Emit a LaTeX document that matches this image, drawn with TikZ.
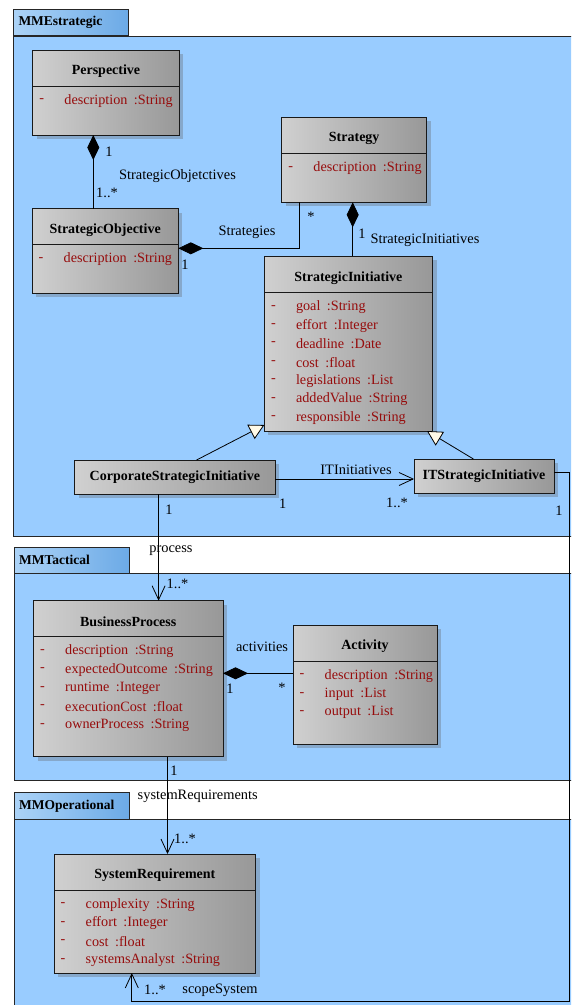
\documentclass[tikz,border=0pt]{standalone}
\usepackage{fontspec}
\setmainfont{Liberation Serif}
\usetikzlibrary{arrows.meta,shadows,calc}
\definecolor{pkgblue}{RGB}{153,204,255}
\definecolor{tabL}{RGB}{172,211,247}
\definecolor{tabR}{RGB}{108,170,230}
\definecolor{attrred}{RGB}{150,12,12}
\definecolor{clsL}{RGB}{208,208,208}
\definecolor{clsR}{RGB}{152,152,152}
\definecolor{cream}{RGB}{255,250,232}
\definecolor{shade}{RGB}{120,140,162}
\newcommand\colgap{\hspace{6.5pt}}
\tikzset{
  pkgbody/.style={draw=black!85, fill=pkgblue, line width=0.9pt, inner sep=0pt, outer sep=0pt, anchor=north west},
  pkgtab/.style={draw=black!85, left color=tabL, right color=tabR, line width=0.9pt, inner sep=0pt, outer sep=0pt, anchor=north west, minimum width=115pt, minimum height=26.5pt},
  tabtext/.style={font=\fontsize{13.5}{15}\selectfont\bfseries, anchor=west, inner sep=0pt},
  cls/.style={draw=black!90, line width=1pt, left color=clsL, right color=clsR, inner sep=0pt, outer sep=0pt,
     drop shadow={shadow xshift=4pt, shadow yshift=-4pt, fill=shade, opacity=0.55}},
  clsline/.style={draw=black!90, line width=1pt},
  clstitle/.style={font=\fontsize{14}{16}\selectfont\bfseries, inner sep=0pt},
  attr/.style={font=\fontsize{14.2}{16}\selectfont, text=attrred, inner sep=0pt, anchor=west},
  lbl/.style={font=\fontsize{14.4}{16}\selectfont, inner sep=0pt},
  conn/.style={draw=black, line width=0.8pt},
  comp/.style={conn, arrows={Diamond[length=25pt,width=12pt]-}},
  nav/.style={conn, arrows={-Straight Barb[length=14pt,width=13pt]}},
  gen/.style={conn, arrows={-Triangle[length=15pt,width=16pt,fill=cream]}},
}
% #1 name, #2 x, #3 y, #4 width, #5 height, #6 title, #7 attribute list
\newcommand\umlcls[7]{%
  \node[cls, minimum width=#4pt, minimum height=#5pt, anchor=north west] (#1) at (#2,#3) {};
  \draw[clsline] ([yshift=-36pt]#1.north west) -- ([yshift=-36pt]#1.north east);
  \node[clstitle] (#1-t) at ($(#1.north)+(0,21.5)$) {#6};
  \foreach \attrtxt [count=\i] in {#7} {
    \node[attr] (#1-d\i) at ($(#1.north west)+(6.5,50.8+18.45*\i-18.45)$) {-};
    \node[attr] (#1-a\i) at ($(#1.north west)+(31.5,50.8+18.45*\i-18.45)$) {\attrtxt};
  }
}
\begin{document}
\begin{tikzpicture}[x=1pt,y=-1pt]
\useasboundingbox (0,0) rectangle (571,1005);
\clip (0,0) rectangle (571,1005);
\fill[white] (0,0) rectangle (571,1005);

% packages
\node[pkgbody, minimum width=570pt, minimum height=500.7pt] (p1) at (13.3,36) {};
\node[pkgtab] (p1tab) at (13.3,9.3) {};
\node[tabtext] (p1name) at ([xshift=5pt]p1tab.west) {MMEstrategic};

\node[pkgbody, minimum width=570pt, minimum height=207.7pt] (p2) at (14,573) {};
\node[pkgtab] (p2tab) at (14,547) {};
\node[tabtext] (p2name) at ([xshift=5pt]p2tab.west) {MMTactical};

\node[pkgbody, minimum width=570pt, minimum height=200pt] (p3) at (14,819.3) {};
\node[pkgtab] (p3tab) at (14,792.7) {};
\node[tabtext] (p3name) at ([xshift=5pt]p3tab.west) {MMOperational};

% classes
\umlcls{persp}{32.7}{50}{146.6}{85}{Perspective}{description\colgap:String}
\umlcls{so}{32}{208.7}{146.3}{84.6}{StrategicObjective}{description\colgap:String}
\umlcls{strat}{281.7}{117.3}{145}{85}{Strategy}{description\colgap:String}
\umlcls{si}{264.3}{256.3}{168.2}{174.7}{StrategicInitiative}{goal\colgap:String, effort\colgap:Integer, deadline\colgap:Date, cost\colgap:float, legislations\colgap:List, addedValue\colgap:String, responsible\colgap:String}
\node[cls, clstitle, minimum width=200.3pt, minimum height=34pt, anchor=north west] (corp) at (74.7,460) {CorporateStrategicInitiative};
\node[cls, clstitle, minimum width=140pt, minimum height=34pt, anchor=north west] (it) at (414,459) {ITStrategicInitiative};
\umlcls{bp}{33.5}{600.7}{189.5}{156}{BusinessProcess}{description\colgap:String, expectedOutcome\colgap:String, runtime\colgap:Integer, executionCost\colgap:float, ownerProcess\colgap:String}
\umlcls{act}{293}{625}{144}{119}{Activity}{description\colgap:String, input\colgap:List, output\colgap:List}
\umlcls{sr}{54}{854}{201.6}{119}{SystemRequirement}{complexity\colgap:String, effort\colgap:Integer, cost\colgap:float, systemsAnalyst\colgap:String}

% connectors
\draw[comp] ([xshift=-12.7pt]persp.south) -- ([xshift=-12.7pt]persp.south |- so.north);
\draw[comp] ([yshift=2.7pt]so.east) -| ([xshift=-54.9pt]strat.south);
\draw[comp] ([xshift=-1.5pt]strat.south) -- ([xshift=-1.5pt]strat.south |- si.north);
\draw[gen] ([xshift=121.9pt]corp.north west) -- ([yshift=6pt]si.south west);
\draw[gen] ([xshift=59.4pt]it.north west) -- ([xshift=-5.5pt]si.south east);
\draw[nav] ([yshift=-2pt]corp.east) -- ([yshift=-2pt]corp.east -| it.west);
\draw[nav] ([xshift=-16.25pt]corp.south) -- ([xshift=-16.25pt]corp.south |- bp.north);
\draw[comp] ([yshift=5.4pt]bp.east) -- ([yshift=5.4pt]bp.east -| act.west);
\draw[nav] ([xshift=39.25pt]bp.south) -- ([xshift=39.25pt]bp.south |- sr.north);
\coordinate (scopecorner) at (569,1001.7);
\draw[nav] ([yshift=3.3pt]it.east) -| (scopecorner) -| ([xshift=-23pt]sr.south);

% labels
\node[lbl] (l1) at (109,151.7) {1};
\node[lbl] (l2) at (177.5,176) {StrategicObjetctives};
\node[lbl] (l3) at (107,192.7) {1..*};
\node[lbl] (l4) at (247,232.3) {Strategies};
\node[lbl] (l5) at (185,265) {1};
\node[lbl] (l6) at (311,216.7) {*};
\node[lbl] (l7) at (362,233.3) {1};
\node[lbl] (l8) at (425,240) {StrategicInitiatives};
\node[lbl] (l9) at (356,469.3) {ITInitiatives};
\node[lbl] (l10) at (282.6,503.3) {1};
\node[lbl] (l11) at (397,503.3) {1..*};
\node[lbl] (l12) at (559,511) {1};
\node[lbl] (l13) at (169,510) {1};
\node[lbl] (l14) at (171,550.7) {process};
\node[lbl] (l15) at (177.5,584) {1..*};
\node[lbl] (l16) at (262,646.7) {activities};
\node[lbl] (l17) at (230,689) {1};
\node[lbl] (l18) at (282,687.5) {*};
\node[lbl] (l19) at (174,770.5) {1};
\node[lbl] (l20) at (197.7,796.7) {systemRequirements};
\node[lbl] (l21) at (185,839.3) {1..*};
\node[lbl] (l22) at (155,990) {1..*};
\node[lbl] (l23) at (220,990) {scopeSystem};
\end{tikzpicture}
\end{document}
